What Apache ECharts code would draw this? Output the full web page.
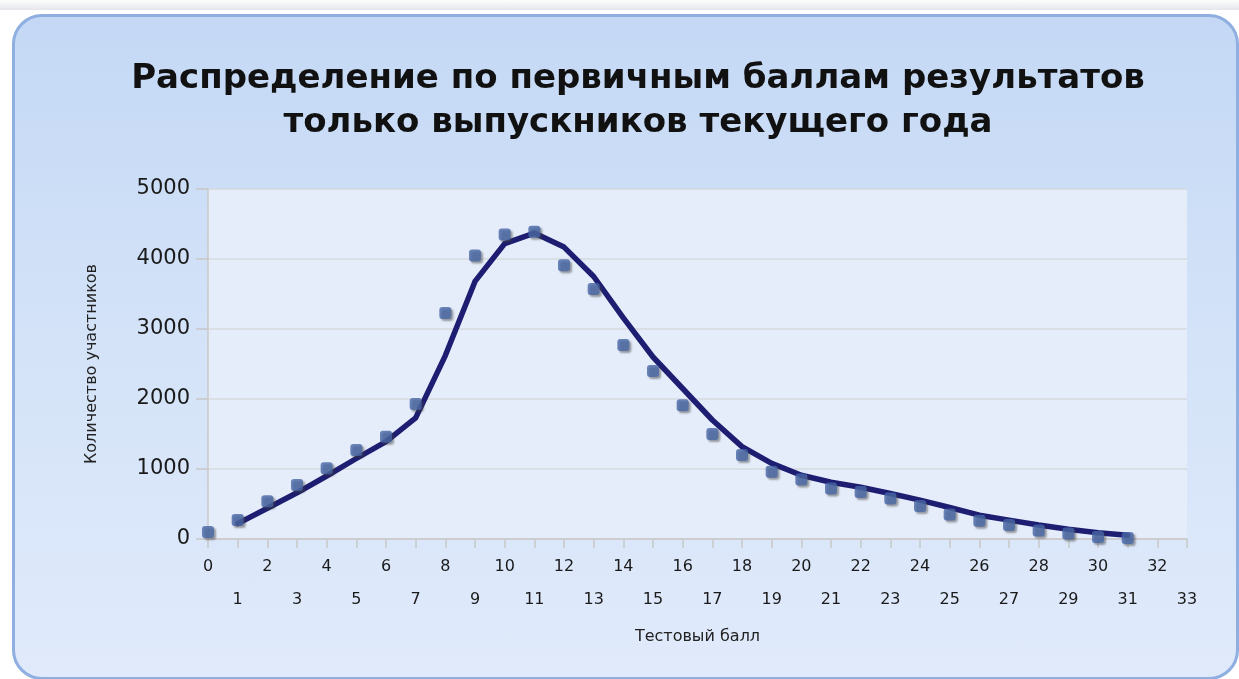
<!DOCTYPE html>
<html><head><meta charset="utf-8">
<script src="https://cdn.jsdelivr.net/npm/echarts@6/dist/echarts.min.js"></script>
<style>
html,body{margin:0;padding:0;background:#fff;width:1239px;height:679px;overflow:hidden;}
#topstrip{position:absolute;left:0;top:0;width:1239px;height:10px;background:linear-gradient(#fdfdfd,#e4e6ea);}
#panel{position:absolute;left:12px;top:14px;width:1221px;height:660px;border:3px solid #8eafdf;border-radius:30px;
background:linear-gradient(to bottom,#c4d8f5 0%,#d4e3f8 50%,#e0eafb 100%);}
#chart{position:absolute;left:0;top:0;width:1239px;height:679px;}
</style></head>
<body>
<div id="topstrip"></div>
<div id="panel"></div>
<div id="chart"></div>
<script>
const scores = [0,1,2,3,4,5,6,7,8,9,10,11,12,13,14,15,16,17,18,19,20,21,22,23,24,25,26,27,28,29,30,31];
const actualCounts = [100,270,540,770,1010,1270,1460,1930,3230,4050,4350,4390,3910,3570,2770,2400,1910,1500,1200,960,850,720,670,580,470,350,260,200,120,80,30,15];
const modelScores = [1,2,3,4,5,6,7,8,9,10,11,12,13,14,15,16,17,18,19,20,21,22,23,24,25,26,27,28,29,30,31];
const modelCounts = [220,440,660,900,1150,1390,1730,2620,3680,4220,4370,4170,3750,3160,2600,2150,1700,1320,1080,910,810,740,650,555,450,340,270,200,140,90,55];
const titleLines = ['Распределение по первичным баллам результатов','только выпускников текущего года'];
const xName = 'Тестовый балл';
const yName = 'Количество участников';

const chart = echarts.init(document.getElementById('chart'), null, {renderer:'canvas'});
chart.setOption({
  backgroundColor:'transparent',
  animation:false,
  title:{text:titleLines.join('\n'),left:633,top:52,textAlign:'center',
    textStyle:{fontFamily:'DejaVu Sans',fontWeight:'bold',fontSize:34,lineHeight:44,color:'#111'}},
  grid:{left:208,right:52,top:189,bottom:140,show:true,backgroundColor:'#e5edfa',borderWidth:0},
  xAxis:{type:'value',min:0,max:33,interval:1,
    name:xName,nameLocation:'middle',nameGap:90,
    nameTextStyle:{fontFamily:'DejaVu Sans',fontSize:16,color:'#222'},
    axisLine:{show:true,lineStyle:{color:'#c8c8c8',width:1.5}},
    axisTick:{show:true,length:9,lineStyle:{color:'#c8c8c8',width:1.5}},
    splitLine:{show:false},
    axisLabel:{fontFamily:'DejaVu Sans',fontSize:16,color:'#1a1a1a',margin:11,lineHeight:33,
      showMinLabel:true,showMaxLabel:true,
      formatter:function(v){return (v%2===1)?('\n'+v):(''+v);}}
  },
  yAxis:{type:'value',min:0,max:5000,interval:1000,
    name:yName,nameLocation:'middle',nameGap:108,nameRotate:90,
    nameTextStyle:{fontFamily:'DejaVu Sans',fontSize:16,color:'#222'},
    axisLine:{show:true,lineStyle:{color:'#c8c8c8',width:1.5}},
    axisTick:{show:true,length:12,lineStyle:{color:'#c8c8c8',width:1.5}},
    splitLine:{show:true,lineStyle:{color:'#d6d9de',width:1.5}},
    axisLabel:{fontFamily:'DejaVu Sans',fontSize:21,color:'#1a1a1a',margin:18,
      formatter:function(v){return ''+v;}}
  },
  series:[
    {type:'line',data:modelScores.map((s,i)=>[s,modelCounts[i]]),showSymbol:false,
      lineStyle:{color:'#1d1d72',width:5.5,join:'round',cap:'round'},z:2},
    {type:'scatter',data:scores.map((s,i)=>[s,actualCounts[i]]),symbol:'roundRect',symbolSize:12,
      itemStyle:{color:'#4767a6',shadowColor:'rgba(60,60,60,0.6)',shadowBlur:2,shadowOffsetX:2,shadowOffsetY:2},z:3}
  ]
});
</script>
</body></html>
